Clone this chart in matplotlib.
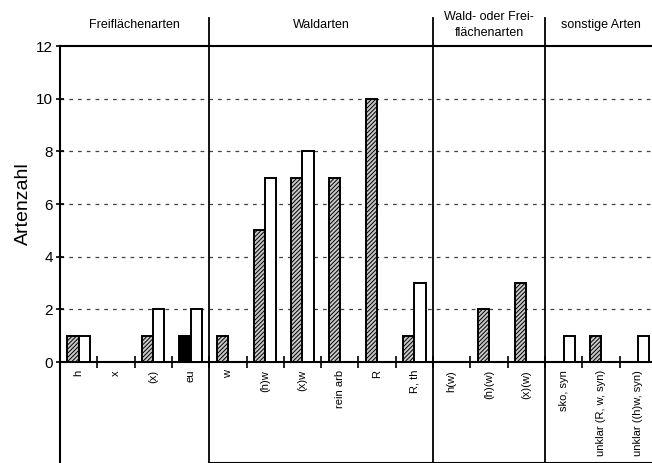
import numpy as np
import matplotlib.pyplot as plt

plt.rcParams['font.family'] = ['Liberation Sans', 'DejaVu Sans']
plt.rcParams['hatch.linewidth'] = 0.7
plt.rcParams['hatch.color'] = '#333333'

# Kategorien und Werte
kategorien = ['h', 'x', '(x)', 'eu', 'w', '(h)w', '(x)w', 'rein arb', 'R', 'R, th',
              'h(w)', '(h)(w)', '(x)(w)', 'sko, syn', 'unklar (R, w, syn)',
              'unklar ((h)w, syn)']
schraffiert = [1, 0, 1, 1, 1, 5, 7, 7, 10, 1, 0, 2, 3, 0, 1, 0]
weiss = [1, 0, 2, 2, 0, 7, 8, 0, 0, 3, 0, 0, 0, 1, 0, 1]
gruppen = ['Freiflächenarten', 'Waldarten', 'Wald- oder Frei-\nflächenarten', 'sonstige Arten']
gruppen_grenzen = [0, 4, 10, 13, 16]

fig = plt.figure(figsize=(6.52, 4.63), dpi=100)
ax = fig.add_axes([60/652, 101/463, 16*37.3/652, 316/463])

x = np.arange(len(kategorien)) + 0.5
b = 0.3
bars1 = ax.bar(x - b/2, schraffiert, b, facecolor='#c8c8c8', edgecolor='black',
               hatch='////////', lw=1.4, zorder=3)
bars1[3].set_facecolor('black')  # eu: schwarz
ax.bar(x + b/2, weiss, b, facecolor='white', edgecolor='black', lw=1.4, zorder=3)

ax.set_xlim(0, 16)
ax.set_ylim(0, 12)
ax.set_yticks(np.arange(0, 13, 2))
ax.tick_params(axis='y', labelsize=11, direction='inout', length=6, width=1.2, pad=2)
ax.set_xticks(np.arange(1, 16))
ax.set_xticklabels([])
ax.tick_params(axis='x', direction='inout', length=8, width=1.2)
ax.set_ylabel('Artenzahl', fontsize=14, labelpad=3)

for yv in range(2, 12, 2):
    ax.axhline(yv, color='#444444', ls=(0, (3, 4)), lw=0.9, zorder=1)

ax.spines['right'].set_visible(False)
ax.spines['top'].set_linewidth(1.5)
ax.spines['bottom'].set_linewidth(1.5)
ax.spines['left'].set_visible(False)
ax.axvline(0, ymin=-0.32, ymax=1, color='black', lw=1.5, clip_on=False)

# Kategorienbeschriftung
for xi, lab in zip(x, kategorien):
    ax.text(xi, -0.3, lab, rotation=90, ha='center', va='top', fontsize=8)

# Gruppen
for i, g in enumerate(gruppen):
    mitte = (gruppen_grenzen[i] + gruppen_grenzen[i+1]) / 2
    ax.text(mitte, 1.066, g, transform=ax.get_xaxis_transform(), ha='center',
            va='center', fontsize=9, linespacing=1.4)
for gx in gruppen_grenzen[1:-1]:
    ax.axvline(gx, ymin=-0.32, ymax=1.09, color='black', lw=1.3, clip_on=False)
ax.plot([gruppen_grenzen[1], gruppen_grenzen[-1]], [-0.32, -0.32],
        transform=ax.get_xaxis_transform(), color='black', lw=1.5, clip_on=False)

plt.savefig('out.png', dpi=100)
